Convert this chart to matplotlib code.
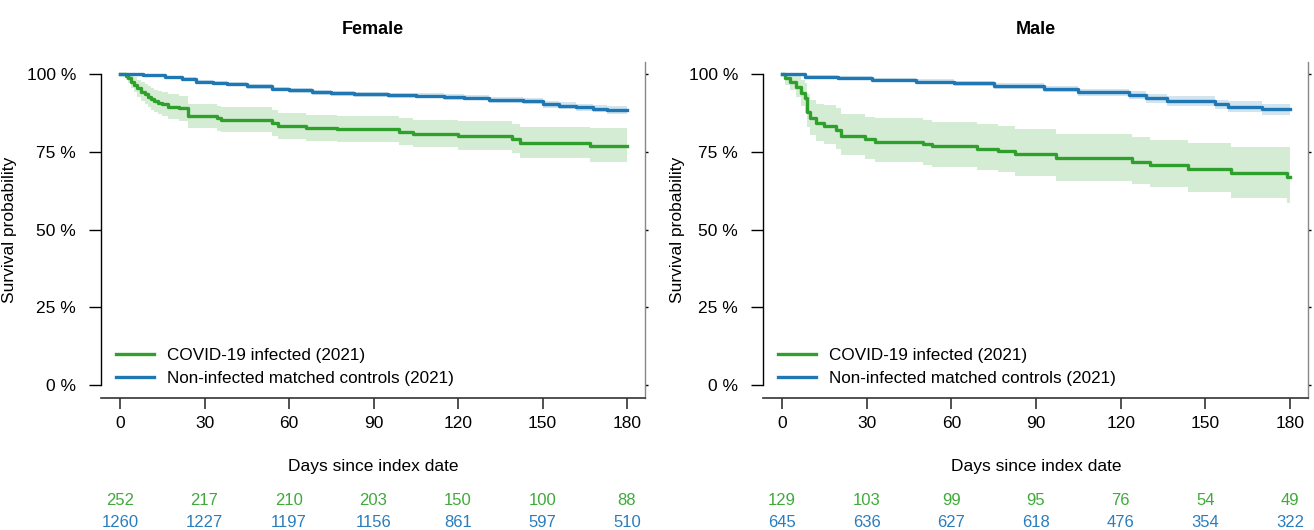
import numpy as np
import matplotlib
matplotlib.use("Agg")
import matplotlib.pyplot as plt
import matplotlib.transforms as mtransforms

plt.rcParams['font.family'] = ['Liberation Sans', 'DejaVu Sans']

# ---- data (Kaplan-Meier steps, with 95% band) ----
day_ticks = [0, 30, 60, 90, 120, 150, 180]
y_ticks = [0, 0.25, 0.5, 0.75, 1.0]
y_tick_labels = ["0 %", "25 %", "50 %", "75 %", "100 %"]
legend_labels = ["COVID-19 infected (2021)", "Non-infected matched controls (2021)"]

# Female - COVID-19 infected
f_cov_t = [0, 2, 3, 4, 5, 6, 7.5, 9, 10, 11, 12, 13.5, 15, 17, 21, 24, 34.5, 36, 54, 56, 66, 77, 99, 104,
           120, 139, 142, 167, 180]
f_cov_s = [1.0, 0.993, 0.986, 0.975, 0.965, 0.954, 0.943, 0.935, 0.927, 0.920, 0.913, 0.907, 0.902, 0.895,
           0.890, 0.866, 0.857, 0.852, 0.841, 0.833, 0.825, 0.822, 0.815, 0.807, 0.801, 0.791, 0.779,
           0.770, 0.770]
f_cov_hi = [1.0, 1.0, 1.0, 0.996, 0.99, 0.982, 0.975, 0.968, 0.962, 0.956, 0.950, 0.946, 0.942, 0.935,
            0.930, 0.905, 0.898, 0.893, 0.885, 0.875, 0.868, 0.866, 0.860, 0.853, 0.848, 0.840, 0.830,
            0.825, 0.825]
f_cov_lo = [1.0, 0.982, 0.972, 0.955, 0.942, 0.927, 0.913, 0.903, 0.893, 0.885, 0.878, 0.871, 0.865,
            0.856, 0.850, 0.827, 0.818, 0.812, 0.800, 0.792, 0.784, 0.780, 0.772, 0.764, 0.757, 0.746,
            0.730, 0.716, 0.716]

# Female - controls
f_ctl_t = [0, 8, 16, 22, 27, 33, 38, 45, 54, 60, 68, 75, 83, 95, 105, 115, 122, 131, 143, 150, 156, 162, 168, 173, 180]
f_ctl_s = [1.0, 0.997, 0.991, 0.984, 0.975, 0.971, 0.967, 0.960, 0.952, 0.947, 0.941, 0.938, 0.935,
           0.932, 0.930, 0.927, 0.924, 0.916, 0.913, 0.902, 0.898, 0.893, 0.889, 0.884, 0.884]
f_ctl_hi = [1.0, 0.999, 0.995, 0.989, 0.981, 0.977, 0.973, 0.967, 0.959, 0.954, 0.949, 0.946, 0.943,
            0.940, 0.938, 0.936, 0.933, 0.926, 0.923, 0.913, 0.909, 0.905, 0.901, 0.896, 0.896]
f_ctl_lo = [1.0, 0.995, 0.987, 0.979, 0.969, 0.965, 0.961, 0.953, 0.945, 0.940, 0.933, 0.930, 0.927,
            0.924, 0.922, 0.918, 0.915, 0.906, 0.903, 0.891, 0.887, 0.881, 0.877, 0.872, 0.872]

# Male - COVID-19 infected
m_cov_t = [0, 1, 3, 5, 6.6, 8, 9, 10, 12, 15, 19, 21, 29.5, 33, 50, 53, 69, 76.5, 82.5, 97, 124,
           130.5, 144, 159, 179, 180]
m_cov_s = [1.0, 0.986, 0.975, 0.959, 0.938, 0.922, 0.879, 0.857, 0.841, 0.833, 0.820, 0.801, 0.791,
           0.782, 0.774, 0.768, 0.759, 0.752, 0.742, 0.729, 0.718, 0.707, 0.695, 0.681, 0.670, 0.670]
m_cov_hi = [1.0, 1.0, 1.0, 0.995, 0.982, 0.970, 0.935, 0.918, 0.905, 0.900, 0.890, 0.870, 0.863,
            0.860, 0.852, 0.847, 0.838, 0.832, 0.822, 0.808, 0.798, 0.788, 0.777, 0.766, 0.766, 0.766]
m_cov_lo = [1.0, 0.966, 0.948, 0.925, 0.898, 0.876, 0.828, 0.803, 0.785, 0.775, 0.760, 0.738, 0.727,
            0.718, 0.708, 0.702, 0.692, 0.684, 0.672, 0.656, 0.645, 0.636, 0.622, 0.600, 0.584, 0.584]

# Male - controls
m_ctl_t = [0, 8, 20, 32, 47.5, 61, 75, 93, 105, 123, 129, 136.5, 153.5, 158, 170, 180]
m_ctl_s = [1.0, 0.991, 0.986, 0.981, 0.975, 0.970, 0.961, 0.952, 0.941, 0.932, 0.922, 0.913, 0.902,
           0.895, 0.887, 0.887]
m_ctl_hi = [1.0, 0.996, 0.992, 0.988, 0.983, 0.979, 0.971, 0.963, 0.953, 0.945, 0.936, 0.928, 0.918,
            0.912, 0.905, 0.905]
m_ctl_lo = [1.0, 0.986, 0.980, 0.974, 0.967, 0.961, 0.951, 0.941, 0.929, 0.919, 0.908, 0.898, 0.886,
            0.878, 0.869, 0.869]

# Numbers at risk
f_risk_cov = [252, 217, 210, 203, 150, 100, 88]
f_risk_ctl = [1260, 1227, 1197, 1156, 861, 597, 510]
m_risk_cov = [129, 103, 99, 95, 76, 54, 49]
m_risk_ctl = [645, 636, 627, 618, 476, 354, 322]

GREEN = "#2FA02B"
BLUE = "#1F78B4"
GREEN_TXT = "#3FAA3A"
BLUE_TXT = "#2A7DBD"

W, H = 1314, 530
fig = plt.figure(figsize=(W / 100, H / 100), dpi=100)


def make_panel(left_px, right_px, title, cov, ctl, risk_cov, risk_ctl, ylab_x):
    top_px, bot_px = 62, 398
    ax = fig.add_axes([left_px / W, (H - bot_px) / H, (right_px - left_px) / W, (bot_px - top_px) / H])

    # x: 0 at left+19 px, 180 at right-18 px ; y: 100% at 74 px, 0% at 385 px
    px_per_day = (right_px - left_px - 37) / 180
    ax.set_xlim(-19 / px_per_day, 180 + 18 / px_per_day)
    ax.set_ylim(-13 / 311, 1 + 12 / 311)

    for (t, s, lo, hi), col in [(cov, GREEN), (ctl, BLUE)]:
        ax.fill_between(t, lo, hi, step="post", color=col, alpha=0.2, linewidth=0)
    for (t, s, lo, hi), col, lab in [(cov, GREEN, legend_labels[0]), (ctl, BLUE, legend_labels[1])]:
        ax.step(t, s, where="post", color=col, lw=2.4, label=lab)

    ax.spines["top"].set_visible(False)
    ax.spines["left"].set_bounds(0, 1)
    ax.spines["left"].set_linewidth(1.0)
    ax.spines["bottom"].set_linewidth(1.2)
    ax.spines["bottom"].set_color("#333333")
    ax.spines["right"].set_color("#888888")
    ax.spines["right"].set_linewidth(1.0)

    ax.set_yticks(y_ticks)
    ax.set_yticklabels(y_tick_labels)
    ax.set_xticks(day_ticks)
    ax.tick_params(axis="y", length=9, width=1.0, labelsize=12.5, pad=9, right=True, labelright=False)
    ax.tick_params(axis="x", length=8, width=1.2, labelsize=12.5, pad=5, color="#333333")
    # small stubs on the grey right-hand line
    for tk in ax.yaxis.get_major_ticks():
        tk.tick2line.set_markersize(2)
        tk.tick2line.set_color("#888888")

    ax.set_ylabel("Survival probability", fontsize=12.5)
    ax.yaxis.set_label_coords(ylab_x, 0.5)
    ax.set_title(title, fontsize=13, fontweight="bold", y=1.058)

    trans = mtransforms.blended_transform_factory(ax.transData, ax.transAxes)
    ax.text(90, -0.205, "Days since index date", transform=trans, ha="center", va="center", fontsize=12.5)
    for d, nc, nk in zip(day_ticks, risk_cov, risk_ctl):
        ax.text(d, -0.306, str(nc), transform=trans, ha="center", va="center", fontsize=12, color=GREEN_TXT)
        ax.text(d, -0.371, str(nk), transform=trans, ha="center", va="center", fontsize=12, color=BLUE_TXT)

    ax.legend(loc="lower left", bbox_to_anchor=(0.015, 0.015), frameon=False, fontsize=12.3,
              handlelength=2.2, handletextpad=0.8, labelspacing=0.5, borderaxespad=0)
    return ax


make_panel(101, 645, "Female",
           (f_cov_t, f_cov_s, f_cov_lo, f_cov_hi), (f_ctl_t, f_ctl_s, f_ctl_lo, f_ctl_hi),
           f_risk_cov, f_risk_ctl, -0.155)
make_panel(763, 1308, "Male",
           (m_cov_t, m_cov_s, m_cov_lo, m_cov_hi), (m_ctl_t, m_ctl_s, m_ctl_lo, m_ctl_hi),
           m_risk_cov, m_risk_ctl, -0.143)

fig.savefig("out.png", dpi=100)
